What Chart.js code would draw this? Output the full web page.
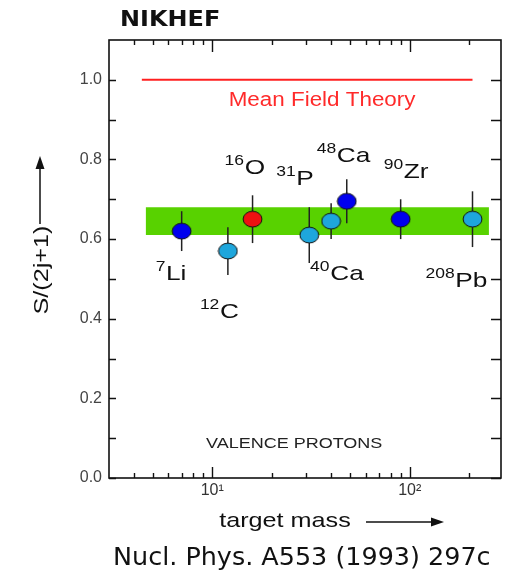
<!DOCTYPE html>
<html>
<head>
<meta charset="utf-8">
<script src="https://cdn.jsdelivr.net/npm/chart.js@4.4.1/dist/chart.umd.min.js"></script>
<style>
  html, body { margin: 0; padding: 0; background: #fff; }
  #wrap { width: 505px; height: 572px; }
</style>
</head>
<body>
<div id="wrap"><canvas id="sfChart" width="505" height="572"></canvas></div>
<script>
const isotopeMass = ["7", "12", "16", "31", "40", "48", "90", "208"];
const elementSymbol = ["Li", "C", "O", "P", "Ca", "Ca", "Zr", "Pb"];
const targetMass = [7, 12, 16, 31, 40, 48, 90, 208];
const strength = [0.62, 0.57, 0.65, 0.61, 0.645, 0.695, 0.65, 0.65];
const strengthError = [0.05, 0.06, 0.06, 0.07, 0.045, 0.055, 0.05, 0.07];

const meanFieldX = [4.4, 208];
const meanFieldY = [1.0, 1.0];
const bandX = [4.6, 252];
const bandLow = [0.61, 0.61];
const bandHigh = [0.68, 0.68];

const yTicks = [0, 0.2, 0.4, 0.6, 0.8, 1.0];
const yAllTicks = [0, 0.1, 0.2, 0.3, 0.4, 0.5, 0.6, 0.7, 0.8, 0.9, 1.0];
const xMajorTicks = [10, 100];
const xTickLabels = ["10\u00b9", "10\u00b2"];
const xMinorTicks = [4, 5, 6, 7, 8, 9, 20, 30, 40, 50, 60, 70, 80, 90, 200];

// styling
const DARK_BLUE = "#0000ee";
const LIGHT_BLUE = "#1ea6dc";
const RED = "#ee1111";
const pointFill = [DARK_BLUE, LIGHT_BLUE, RED, LIGHT_BLUE, LIGHT_BLUE, DARK_BLUE, DARK_BLUE, LIGHT_BLUE];
// label placement relative to the marker centre (px)
const labelOffsets = [[-26, 49], [-28, 67], [-28, -45], [-33, -50], [-21, 59], [-30, -39], [-17, -41], [-47, 68]];
const SANS = '"Liberation Sans", Arial, sans-serif';
const COMIC = '"Comic Sans MS", "DejaVu Sans", sans-serif';
const SX = 1.25; // the original lettering is a bit wider than Arial

function ellipseMarker(fill) {
    const c = document.createElement("canvas");
    c.width = 21;
    c.height = 18;
    const g = c.getContext("2d");
    g.beginPath();
    g.ellipse(10.5, 9, 9.4, 7.9, 0, 0, 2 * Math.PI);
    g.fillStyle = fill;
    g.fill();
    g.lineWidth = 1;
    g.strokeStyle = "#111";
    g.stroke();
    return c;
}

function drawText(ctx, text, x, y, font, color, sx, align) {
    ctx.save();
    ctx.font = font;
    ctx.fillStyle = color;
    ctx.textBaseline = "alphabetic";
    ctx.translate(x, y);
    ctx.scale(sx, 1);
    const w = ctx.measureText(text).width;
    let dx = 0;
    if (align === "center") dx = -w / 2;
    if (align === "right") dx = -w;
    ctx.fillText(text, dx, 0);
    ctx.restore();
}

function drawArrow(ctx, x1, y1, x2, y2) {
    const ang = Math.atan2(y2 - y1, x2 - x1);
    const head = 13, half = 4.5;
    ctx.save();
    ctx.strokeStyle = "#111";
    ctx.fillStyle = "#111";
    ctx.lineWidth = 1.5;
    ctx.beginPath();
    ctx.moveTo(x1, y1);
    ctx.lineTo(x2 - head * Math.cos(ang), y2 - head * Math.sin(ang));
    ctx.stroke();
    ctx.translate(x2, y2);
    ctx.rotate(ang);
    ctx.beginPath();
    ctx.moveTo(0, 0);
    ctx.lineTo(-head, -half);
    ctx.lineTo(-head, half);
    ctx.closePath();
    ctx.fill();
    ctx.restore();
}

const errorBars = {
    id: "errorBars",
    beforeDatasetDraw(chart, args) {
        if (args.index !== 0) return;
        const ctx = chart.ctx;
        const x = chart.scales.x, y = chart.scales.y;
        ctx.save();
        ctx.strokeStyle = "#222";
        ctx.lineWidth = 1.5;
        targetMass.forEach(function (m, i) {
            const px = x.getPixelForValue(m);
            ctx.beginPath();
            ctx.moveTo(px, y.getPixelForValue(strength[i] + strengthError[i]));
            ctx.lineTo(px, y.getPixelForValue(strength[i] - strengthError[i]));
            ctx.stroke();
        });
        ctx.restore();
    }
};

const decorations = {
    id: "decorations",
    afterDraw(chart) {
        const ctx = chart.ctx;
        const area = chart.chartArea;
        const x = chart.scales.x, y = chart.scales.y;

        // frame and inward ticks
        ctx.save();
        ctx.strokeStyle = "#111";
        ctx.lineWidth = 1.6;
        ctx.strokeRect(area.left, area.top, area.right - area.left, area.bottom - area.top);
        ctx.lineWidth = 1.4;
        ctx.beginPath();
        yAllTicks.forEach(function (v) {
            const py = Math.round(y.getPixelForValue(v)) + 0.5;
            ctx.moveTo(area.left, py);
            ctx.lineTo(area.left + 7, py);
            ctx.moveTo(area.right, py);
            ctx.lineTo(area.right - 10, py);
        });
        xMajorTicks.forEach(function (v) {
            const px = Math.round(x.getPixelForValue(v)) + 0.5;
            ctx.moveTo(px, area.top);
            ctx.lineTo(px, area.top + 12);
            ctx.moveTo(px, area.bottom);
            ctx.lineTo(px, area.bottom - 11);
        });
        xMinorTicks.forEach(function (v) {
            const px = Math.round(x.getPixelForValue(v)) + 0.5;
            ctx.moveTo(px, area.top);
            ctx.lineTo(px, area.top + 5);
            ctx.moveTo(px, area.bottom);
            ctx.lineTo(px, area.bottom - 5);
        });
        ctx.stroke();
        ctx.restore();

        // isotope labels
        targetMass.forEach(function (m, i) {
            const px = x.getPixelForValue(m) + labelOffsets[i][0];
            const py = y.getPixelForValue(strength[i]) + labelOffsets[i][1];
            ctx.save();
            ctx.fillStyle = "#111";
            ctx.translate(px, py);
            ctx.scale(SX, 1);
            ctx.font = "14px " + SANS;
            ctx.fillText(isotopeMass[i], 0, -9);
            const w = ctx.measureText(isotopeMass[i]).width;
            ctx.font = "21px " + SANS;
            ctx.fillText(elementSymbol[i], w + 0.5, 0);
            ctx.restore();
        });

        // in-plot annotations
        drawText(ctx, "Mean Field Theory", x.getPixelForValue(36), y.getPixelForValue(0.933),
            "20px " + SANS, "#ff2a2a", 1.12, "center");
        drawText(ctx, "VALENCE PROTONS", x.getPixelForValue(26), y.getPixelForValue(0.075),
            "15px " + SANS, "#222", 1.2, "center");

        // axis titles
        drawText(ctx, "target mass", 285, 527, "21px " + SANS, "#111", 1.2, "center");
        drawArrow(ctx, 366, 522, 444, 522);

        ctx.save();
        ctx.translate(48, 270);
        ctx.rotate(-Math.PI / 2);
        drawText(ctx, "S/(2j+1)", 0, 0, "21px " + SANS, "#111", 1.2, "center");
        ctx.restore();
        drawArrow(ctx, 40, 224, 40, 156);

        // header / footer
        drawText(ctx, "NIKHEF", 120, 26, "bold 21px " + COMIC, "#111", 1.14, "left");
        drawText(ctx, "Nucl. Phys. A553 (1993) 297c", 113, 565, "24px " + COMIC, "#111", 1.06, "left");
    }
};

const canvas = document.getElementById("sfChart");

const data = {
    datasets: [
        {
            label: "NIKHEF (e,e'p)",
            data: targetMass.map(function (m, i) { return { x: m, y: strength[i] }; }),
            showLine: false,
            pointStyle: pointFill.map(ellipseMarker),
            pointRadius: 9,
            pointHoverRadius: 9
        },
        {
            label: "Mean Field Theory",
            data: meanFieldX.map(function (v, i) { return { x: v, y: meanFieldY[i] }; }),
            borderColor: "#ff2020",
            borderWidth: 2,
            pointRadius: 0,
            fill: false
        },
        {
            label: "band high",
            data: bandX.map(function (v, i) { return { x: v, y: bandHigh[i] }; }),
            borderWidth: 0,
            borderColor: "rgba(0,0,0,0)",
            backgroundColor: "#58d200",
            pointRadius: 0,
            fill: "+1"
        },
        {
            label: "band low",
            data: bandX.map(function (v, i) { return { x: v, y: bandLow[i] }; }),
            borderWidth: 0,
            borderColor: "rgba(0,0,0,0)",
            pointRadius: 0,
            fill: false
        }
    ]
};

const config = {
    type: "line",
    data: data,
    options: {
        responsive: false,
        animation: false,
        devicePixelRatio: 1,
        layout: { autoPadding: false, padding: { top: 40, right: 4, left: 0, bottom: 0 } },
        plugins: {
            legend: { display: false },
            tooltip: { enabled: false }
        },
        scales: {
            x: {
                type: "logarithmic",
                min: 3,
                max: 290,
                grid: { display: false, drawTicks: false },
                border: { display: false },
                afterBuildTicks: function (scale) {
                    scale.ticks = xMajorTicks.map(function (v) { return { value: v, major: true }; });
                },
                afterFit: function (scale) {
                    scale.height = 94;
                    scale.paddingLeft = 0;
                    scale.paddingRight = 0;
                },
                ticks: {
                    autoSkip: false,
                    maxRotation: 0,
                    padding: 3,
                    color: "#333",
                    font: { family: SANS, size: 16 },
                    callback: function (value, index) { return xTickLabels[index]; }
                }
            },
            y: {
                type: "linear",
                min: 0,
                max: 1.1,
                grid: { display: false, drawTicks: false },
                border: { display: false },
                afterBuildTicks: function (scale) {
                    scale.ticks = yTicks.map(function (v) { return { value: v }; });
                },
                afterFit: function (scale) {
                    scale.width = 109;
                    scale.paddingTop = 0;
                    scale.paddingBottom = 0;
                },
                ticks: {
                    padding: 7,
                    color: "#444",
                    font: { family: SANS, size: 16 },
                    callback: function (value) { return Number(value).toFixed(1); }
                }
            }
        }
    },
    plugins: [errorBars, decorations]
};

new Chart(canvas, config);
</script>
</body>
</html>
